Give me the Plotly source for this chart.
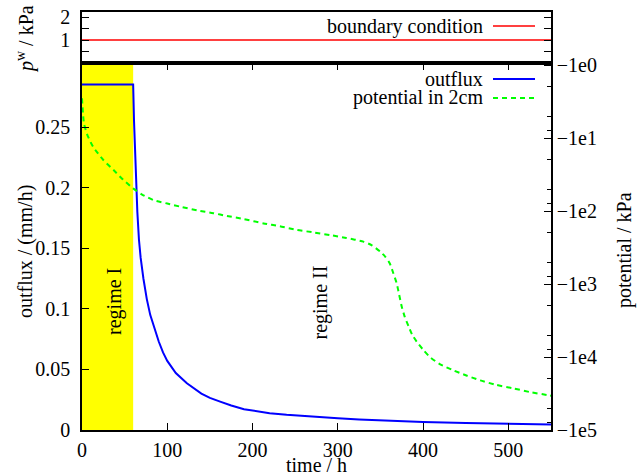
import plotly.graph_objects as go

W, H = 643, 476

# ---------------- data ----------------
flux_time = [0, 60, 61, 62.4, 64.9, 66.8, 68.8, 72, 76, 80, 84, 90, 95, 100, 110, 123, 140, 150,
             162, 175, 190, 205, 220, 240, 260, 280, 300, 325, 350, 375, 400, 450, 500, 550]
flux_value = [0.285, 0.285, 0.255, 0.223, 0.18, 0.157, 0.142, 0.125, 0.108, 0.095, 0.086, 0.073,
              0.064, 0.057, 0.047, 0.0385, 0.030, 0.0265, 0.0234, 0.0202, 0.0172, 0.0152,
              0.0138, 0.0125, 0.0114, 0.0104, 0.0096, 0.0087, 0.0079, 0.0072, 0.0066, 0.0057,
              0.0051, 0.0046]

pot_time = [0, 2.3, 6, 13, 25, 37, 48, 60, 70, 84, 100, 115, 135, 154, 170, 190, 213, 232, 252,
            270, 291, 310, 330, 340, 350, 356, 361, 365, 369, 372, 375, 378.5, 383, 387, 392.5,
            400, 408, 420, 435, 450, 467, 485, 506, 525, 545, 550]
pot_value = [-2.86, -6.3, -8.9, -13.2, -20, -27.5, -37, -49, -59, -71, -79, -87, -98, -107, -117,
             -129, -148, -162, -182, -195, -214, -234, -263, -295, -363, -427, -525, -708, -977,
             -1413, -2042, -2818, -3802, -4898, -6166, -7943, -10000, -12590, -15140, -17780,
             -20890, -23990, -26920, -30200, -33110, -33880]

bc_time = [0, 550]
bc_value = [1, 1]

regime1_end = 60

pot_tickvals = [1, 10, 100, 1000, 10000, 100000]
pot_ticktext = ["\u22121e0", "\u22121e1", "\u22121e2", "\u22121e3", "\u22121e4", "\u22121e5"]
pot_minor = [m * 10 ** k for k in range(5) for m in (2, 5, 8)]

# ---------------- layout helpers ----------------
def px(x):
    return x / W

def py(y):
    return 1 - y / H

FONT = "Liberation Serif, Times New Roman, serif"
FS = 20

x0p, x1p = 82, 551
main_top, main_bot = 63, 430
top_top = 12

fig = go.Figure()

fig.add_trace(go.Scatter(x=flux_time, y=flux_value, mode="lines", name="outflux",
                         line=dict(color="#0000ff", width=2),
                         xaxis="x", yaxis="y", showlegend=False))
fig.add_trace(go.Scatter(x=pot_time, y=[-v for v in pot_value], mode="lines",
                         name="potential in 2cm",
                         line=dict(color="#00ff00", width=2, dash="5px,4px", shape="spline",
                                   smoothing=0.6),
                         xaxis="x", yaxis="y2", showlegend=False))
fig.add_trace(go.Scatter(x=bc_time, y=bc_value, mode="lines", name="boundary condition",
                         line=dict(color="#ff0000", width=1.5), xaxis="x2", yaxis="y3",
                         showlegend=False))

ymax_main = (main_bot - main_top) / 1212.0
top_log = -2 / 73.0

axis_common = dict(showline=True, linecolor="black", linewidth=1.5, showgrid=False,
                   zeroline=False, tickcolor="black", automargin=False,
                   tickfont=dict(family=FONT, size=FS, color="black"))

fig.update_layout(
    width=W, height=H,
    margin=dict(l=0, r=0, t=0, b=0, autoexpand=False),
    paper_bgcolor="white", plot_bgcolor="rgba(0,0,0,0)",
    font=dict(family=FONT, size=FS, color="black"),
    xaxis=dict(domain=[px(x0p), px(x1p)], range=[0, 550], anchor="y",
               tickvals=[0, 100, 200, 300, 400, 500], ticks="inside", ticklen=7,
               ticklabelstandoff=1, mirror="ticks", **axis_common),
    yaxis=dict(domain=[py(main_bot), py(main_top)], range=[0, ymax_main], anchor="x",
               tickvals=[0, 0.05, 0.1, 0.15, 0.2, 0.25],
               ticktext=["0", "0.05", "0.1", "0.15", "0.2", "0.25"],
               ticks="inside", ticklen=7, ticklabelstandoff=6, **axis_common),
    yaxis2=dict(overlaying="y", side="right", anchor="x", type="log",
                range=[5, top_log], tickvals=pot_tickvals, ticktext=pot_ticktext,
                ticks="inside", ticklen=7, ticklabelstandoff=0,
                minor=dict(tickvals=pot_minor, ticks="inside", ticklen=4, tickcolor="black"),
                **axis_common),
    xaxis2=dict(domain=[px(x0p), px(x1p)], range=[0, 550], anchor="y3", matches="x",
                showticklabels=False, ticks="", mirror=True, showline=True, linecolor="black",
                linewidth=1.5, showgrid=False, zeroline=False, automargin=False),
    yaxis3=dict(domain=[py(main_top), py(top_top)], range=[0, 2.22], anchor="x2",
                tickvals=[1, 2], ticks="inside", ticklen=7, mirror="ticks",
                ticklabelstandoff=6,
                minor=dict(dtick=0.5, tick0=0, ticks="inside", ticklen=7, tickcolor="black"),
                **axis_common),
)

# regime I highlight
fig.add_shape(type="rect", xref="x", yref="y domain", x0=0, x1=regime1_end, y0=0, y1=1,
              fillcolor="#ffff00", line=dict(width=0), layer="below")
# thick separator line between the panels
fig.add_shape(type="line", xref="paper", yref="paper", x0=px(x0p - 1), x1=px(x1p),
              y0=py(main_top), y1=py(main_top), line=dict(color="black", width=3.5))

# legends (gnuplot style: text then sample on the right)
legend_items = [
    ("boundary condition", dict(color="#ff0000", width=1.5), 26),
    ("outflux", dict(color="#0000ff", width=2), 79),
    ("potential in 2cm", dict(color="#00ff00", width=2, dash="5px,4px"), 98),
]
for text, ln, yy in legend_items:
    fig.add_annotation(text=text, x=px(484), y=py(yy), xref="paper", yref="paper",
                       xanchor="right", yanchor="middle", showarrow=False, borderpad=0,
                       font=dict(family=FONT, size=FS))
    fig.add_shape(type="line", xref="paper", yref="paper", x0=px(493), x1=px(535),
                  y0=py(yy), y1=py(yy), line=ln)

# axis titles
title_font = dict(family=FONT, size=FS)
fig.add_annotation(text="outflux / (mm/h)", x=px(25), y=py(252), xref="paper", yref="paper",
                   xanchor="center", yanchor="middle", textangle=-90, showarrow=False,
                   borderpad=0, font=title_font)
fig.add_annotation(text="potential / kPa", x=px(624), y=py(250), xref="paper", yref="paper",
                   xanchor="center", yanchor="middle", textangle=-90, showarrow=False,
                   borderpad=0, font=title_font)
fig.add_annotation(text="time / h", x=px(316), y=py(465), xref="paper", yref="paper",
                   xanchor="center", yanchor="middle", showarrow=False, borderpad=0,
                   font=title_font)
fig.add_annotation(text="<i>p</i><sup>w</sup> / kPa", x=px(25), y=py(39), xref="paper",
                   yref="paper", xanchor="center", yanchor="middle", textangle=-90,
                   showarrow=False, borderpad=0, font=title_font)

# regime labels
fig.add_annotation(text="regime I", x=38, y=0.106, xref="x", yref="y", textangle=-90,
                   xanchor="center", yanchor="middle", showarrow=False, borderpad=0,
                   font=title_font)
fig.add_annotation(text="regime II", x=280, y=0.105, xref="x", yref="y", textangle=-90,
                   xanchor="center", yanchor="middle", showarrow=False, borderpad=0,
                   font=title_font)

fig.write_html("out.html")
